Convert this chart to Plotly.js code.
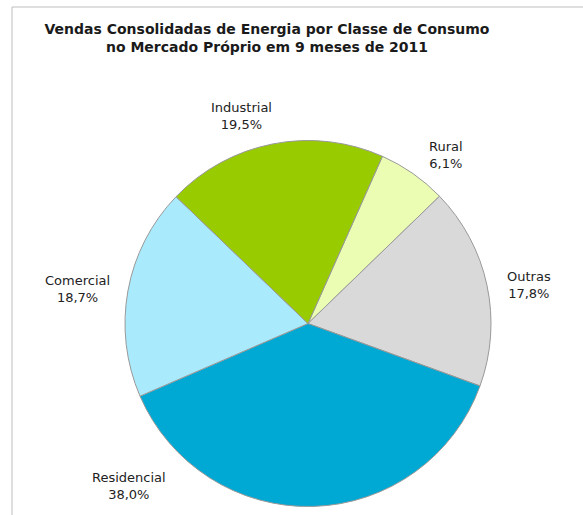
<!DOCTYPE html>
<html>
<head>
<meta charset="utf-8">
<script src="https://cdn.plot.ly/plotly-3.0.1.min.js"></script>
<style>
  html, body { margin: 0; padding: 0; background: #ffffff; }
  #chart { width: 583px; height: 515px; }
</style>
</head>
<body>
<div id="chart"></div>
<script>
// Data (order clockwise starting from Rural)
const categories = ["Rural", "Outras", "Residencial", "Comercial", "Industrial"];
const shares = [6.1, 17.8, 38.0, 18.7, 19.5];
const shareLabels = ["6,1%", "17,8%", "38,0%", "18,7%", "19,5%"];
const sliceColors = ["#EAFDB3", "#D9D9D9", "#00A9D4", "#A9EBFD", "#99CC00"];

const W = 583, H = 515;
const cx = 308, cy = 323.5, r = 183;

// label anchor positions (pixels) for each category
const labelPos = {
  "Rural": [446, 155],
  "Outras": [529, 285],
  "Residencial": [129, 486],
  "Comercial": [77, 289],
  "Industrial": [241, 116]
};

const trace = {
  type: "pie",
  labels: categories,
  values: shares,
  sort: false,
  direction: "clockwise",
  rotation: 24,
  textinfo: "none",
  hoverinfo: "label+percent",
  marker: { colors: sliceColors, line: { color: "#999999", width: 1 } },
  domain: { x: [(cx - r) / W, (cx + r) / W], y: [(H - cy - r) / H, (H - cy + r) / H] },
  showlegend: false
};

const annotations = categories.map((c, i) => ({
  xref: "paper", yref: "paper",
  x: labelPos[c][0] / W, y: 1 - labelPos[c][1] / H,
  xanchor: "center", yanchor: "middle",
  text: c + "<br>" + shareLabels[i],
  showarrow: false,
  align: "center",
  font: { family: "DejaVu Sans", size: 13, color: "#222222" }
}));

const layout = {
  width: W, height: H,
  margin: { l: 0, r: 0, t: 0, b: 0 },
  paper_bgcolor: "#ffffff",
  title: {
    text: "<b>Vendas Consolidadas de Energia por Classe de Consumo<br>no Mercado Próprio em 9 meses de 2011</b>",
    x: 267 / W, xanchor: "center", xref: "paper",
    y: 1 - 34 / H, yanchor: "top", yref: "container",
    font: { family: "DejaVu Sans", size: 14, color: "#1a1a1a" }
  },
  annotations: annotations,
  shapes: [
    { type: "line", xref: "paper", yref: "paper", x0: 12 / W, x1: 12 / W, y0: 0, y1: 1 - 7 / H, line: { color: "#BDBDBD", width: 1 } },
    { type: "line", xref: "paper", yref: "paper", x0: 12 / W, x1: 1, y0: 1 - 7 / H, y1: 1 - 7 / H, line: { color: "#BDBDBD", width: 1 } }
  ]
};

Plotly.newPlot("chart", [trace], layout, { displayModeBar: false, staticPlot: true });
</script>
</body>
</html>
